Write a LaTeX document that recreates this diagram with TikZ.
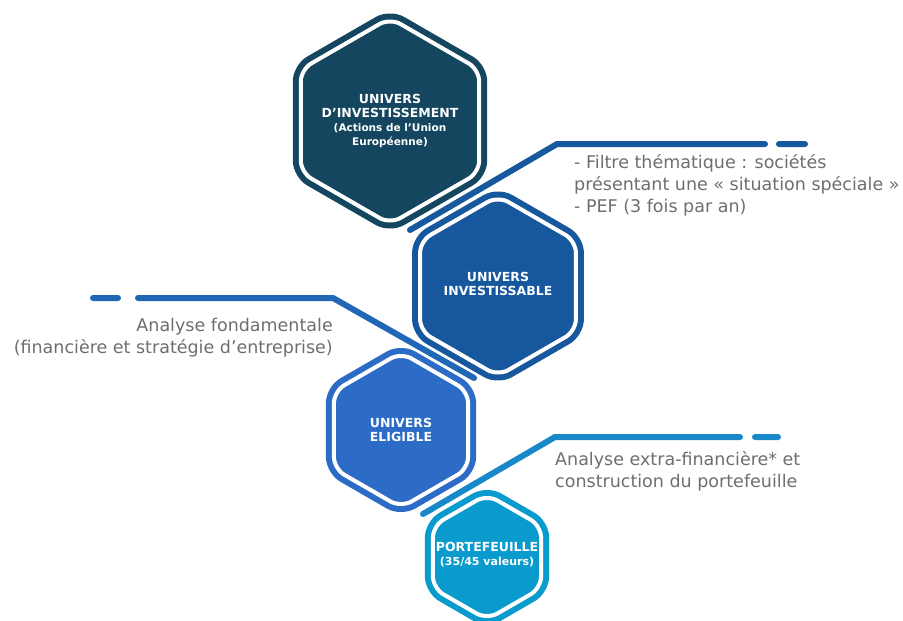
\documentclass[tikz,border=0pt]{standalone}
\usepackage{fontspec}
\setmainfont{DejaVu Sans}
\usetikzlibrary{shapes.geometric}
\definecolor{hexa}{HTML}{14465F}
\definecolor{hexb}{HTML}{16579D}
\definecolor{hexc}{HTML}{2C6BC6}
\definecolor{hexd}{HTML}{0A9BCE}
\definecolor{linea}{HTML}{17589E}
\definecolor{lineb}{HTML}{2067B5}
\definecolor{linec}{HTML}{1888C9}
\definecolor{txtgrey}{HTML}{6E6E6E}
\newcommand{\smallhex}{\fontsize{10.5}{13}\selectfont}
\begin{document}
\begin{tikzpicture}[x=1pt,y=-1pt,
  hex/.style={regular polygon,regular polygon sides=6,shape border rotate=30,
    inner sep=0pt,rounded corners=12pt,fill=#1,draw=white,line width=4pt,
    preaction={draw=#1,line width=16pt,line join=round}},
  hextxt/.style={inner sep=0pt,text=white,align=center,font=\bfseries\fontsize{12.5}{14}\selectfont},
  lead/.style={line width=6pt,line cap=round,draw=#1},
  note/.style={inner sep=0pt,text=txtgrey,font=\fontsize{17.5}{22}\selectfont}]
        \useasboundingbox (0,0) rectangle (903,621);
        \clip (0,0) rectangle (903,621);
        \coordinate (a1) at (410,230);
        \coordinate (a2) at (557,144);
        \coordinate (a3) at (765,144);
        \coordinate (a4) at (779,144);
        \coordinate (a5) at (805,144);
        \coordinate (b1) at (474,378);
        \coordinate (b2) at (333,298);
        \coordinate (b3) at (138,298);
        \coordinate (b4) at (118,298);
        \coordinate (b5) at (93,298);
        \coordinate (c1) at (423,514);
        \coordinate (c2) at (555,437);
        \coordinate (c3) at (740,437);
        \coordinate (c4) at (755,437);
        \coordinate (c5) at (778,437);
        \draw[lead=linea] (a1) -- (a2) -- (a3) (a4) -- (a5);
        \draw[lead=lineb] (b1) -- (b2) -- (b3) (b4) -- (b5);
        \draw[lead=linec] (c1) -- (c2) -- (c3) (c4) -- (c5);
        \draw (390,121) node[hex=hexa,minimum size=206pt](univ){};
        \draw (498,286) node[hex=hexb,minimum size=180pt](invest){};
        \draw (401,430) node[hex=hexc,minimum size=155pt](elig){};
        \draw (487,557) node[hex=hexd,minimum size=125pt](ptf){};
        \draw (univ) node[hextxt](univ-t){UNIVERS\\D’INVESTISSEMENT\\{\smallhex(Actions de l’Union}\\{\smallhex Européenne)}};
        \draw (498,284) node[hextxt](invest-t){UNIVERS\\INVESTISSABLE};
        \draw (elig) node[hextxt](elig-t){UNIVERS\\ELIGIBLE};
        \draw (487,555) node[hextxt](ptf-t){PORTEFEUILLE\\{\fontsize{11}{13}\selectfont(35/45 valeurs)}};
        \draw (574,212) node[note,anchor=base west,align=left](filtre){- Filtre thématique : sociétés\\présentant une « situation spéciale »\\- PEF (3 fois par an)};
        \draw (333,353) node[note,anchor=base east,align=right](fonda){Analyse fondamentale\\(financière et stratégie d’entreprise)};
        \draw (555,487) node[note,anchor=base west,align=left](extra){Analyse extra-financière* et\\construction du portefeuille};
      \end{tikzpicture}
\end{document}
